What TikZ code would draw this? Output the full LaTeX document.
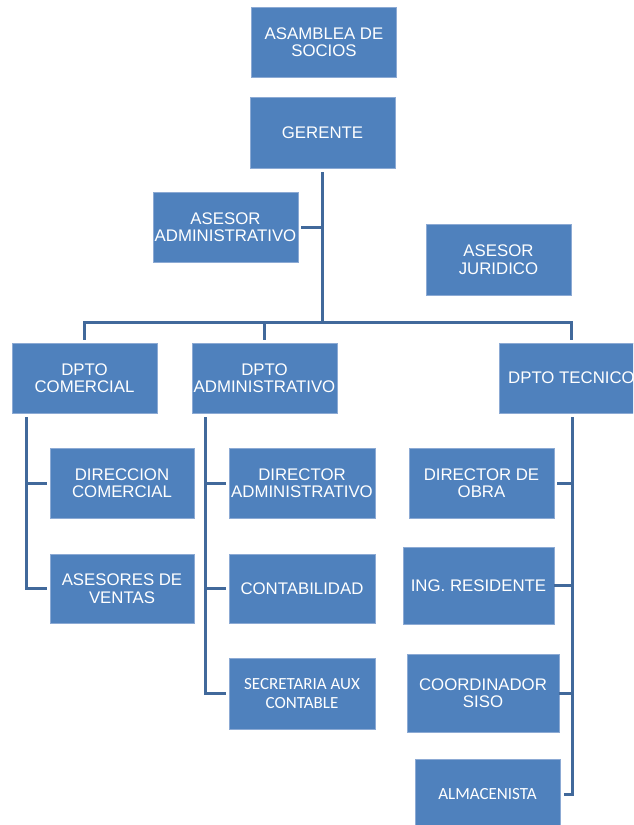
\documentclass[tikz,border=0pt]{standalone}
\usepackage{fontspec}
\setmainfont{Liberation Sans}
\newfontfamily\carlito{Carlito}
\usepackage{tikz}

\definecolor{cajaazul}{RGB}{79,129,189}
\definecolor{bordeazul}{RGB}{140,170,212}
\definecolor{lineaazul}{RGB}{65,105,155}

\begin{document}
\begin{tikzpicture}[x=1pt, y=-1pt,
  caja/.style={draw=bordeazul, line width=0.7pt, fill=cajaazul, text=white,
    align=center, inner sep=0pt, minimum width=145, minimum height=70,
    font=\fontsize{16.8}{17.5}\selectfont},
  cajac/.style={caja, font=\carlito\fontsize{17}{18.5}\selectfont},
  linea/.style={draw=lineaazul, line width=3pt}]
\useasboundingbox (0,0) rectangle (633,825);
\clip (0,0) rectangle (633,825);

\node[caja] (asam) at (324,42) {ASAMBLEA DE\\SOCIOS};
\node[caja, minimum height=71] (ger) at (322.5,132.5) {GERENTE};
\node[caja] (asesadm) at (225.5,227) {ASESOR\\ADMINISTRATIVO};
\node[caja, minimum height=71] (asesjur) at (498.5,259.5) {ASESOR\\JURIDICO};

\node[caja] (dcom) at (84.5,378) {DPTO\\COMERCIAL};
\node[caja] (dadm) at (264.5,378) {DPTO\\ADMINISTRATIVO};
\node[caja] (dtec) at (571.5,378) {DPTO TECNICO};

\node[caja, minimum width=144] (dircom) at (122,483) {DIRECCION\\COMERCIAL};
\node[caja, minimum width=144, minimum height=69] (asesven) at (122,588.5) {ASESORES DE\\VENTAS};

\node[caja, minimum width=146] (diradm) at (302,483) {DIRECTOR\\ADMINISTRATIVO};
\node[caja, minimum width=146, minimum height=69] (conta) at (302,588.5) {CONTABILIDAD};
\node[cajac, minimum width=146, minimum height=71] (secre) at (302,693.5) {SECRETARIA AUX\\CONTABLE};

\node[caja] (dirobra) at (481.5,483) {DIRECTOR DE\\OBRA};
\node[caja, minimum width=151, minimum height=77] (ing) at (478.5,585.5) {ING. RESIDENTE};
\node[caja, minimum width=152, minimum height=78] (coord) at (483,693) {COORDINADOR\\SISO};
\node[cajac] (almac) at (487.5,794) {ALMACENISTA};

% lineas
\coordinate (bus) at (322,322);
\coordinate (ec) at (26,413);
\coordinate (ea) at (205,413);
\coordinate (et) at (572,413);

\draw[linea, shorten <=4pt] (ger.south) -- (ger.south |- bus);
\draw[linea, shorten <=3pt] (asesadm.east) -- (asesadm.east -| ger.south);
\draw[linea, shorten <=3pt, shorten >=3pt] (dcom.north) |- (bus) -| (dtec.north);
\draw[linea, shorten >=3pt] (dadm.north |- bus) -- (dadm.north);

\draw[linea, shorten <=4pt, shorten >=3pt] (ec) |- (asesven.west);
\draw[linea, shorten >=3pt] (ec |- dircom.west) -- (dircom.west);

\draw[linea, shorten <=4pt, shorten >=3pt] (ea) |- (secre.west);
\draw[linea, shorten >=3pt] (ea |- diradm.west) -- (diradm.west);
\draw[linea, shorten >=3pt] (ea |- conta.west) -- (conta.west);

\draw[linea, shorten <=4pt, shorten >=4pt] (et) |- (almac.east);
\draw[linea, shorten >=3pt] (et |- dirobra.east) -- (dirobra.east);
\draw[linea] (et |- ing.east) -- (ing.east);
\draw[linea] (et |- coord.east) -- (coord.east);
\end{tikzpicture}
\end{document}
